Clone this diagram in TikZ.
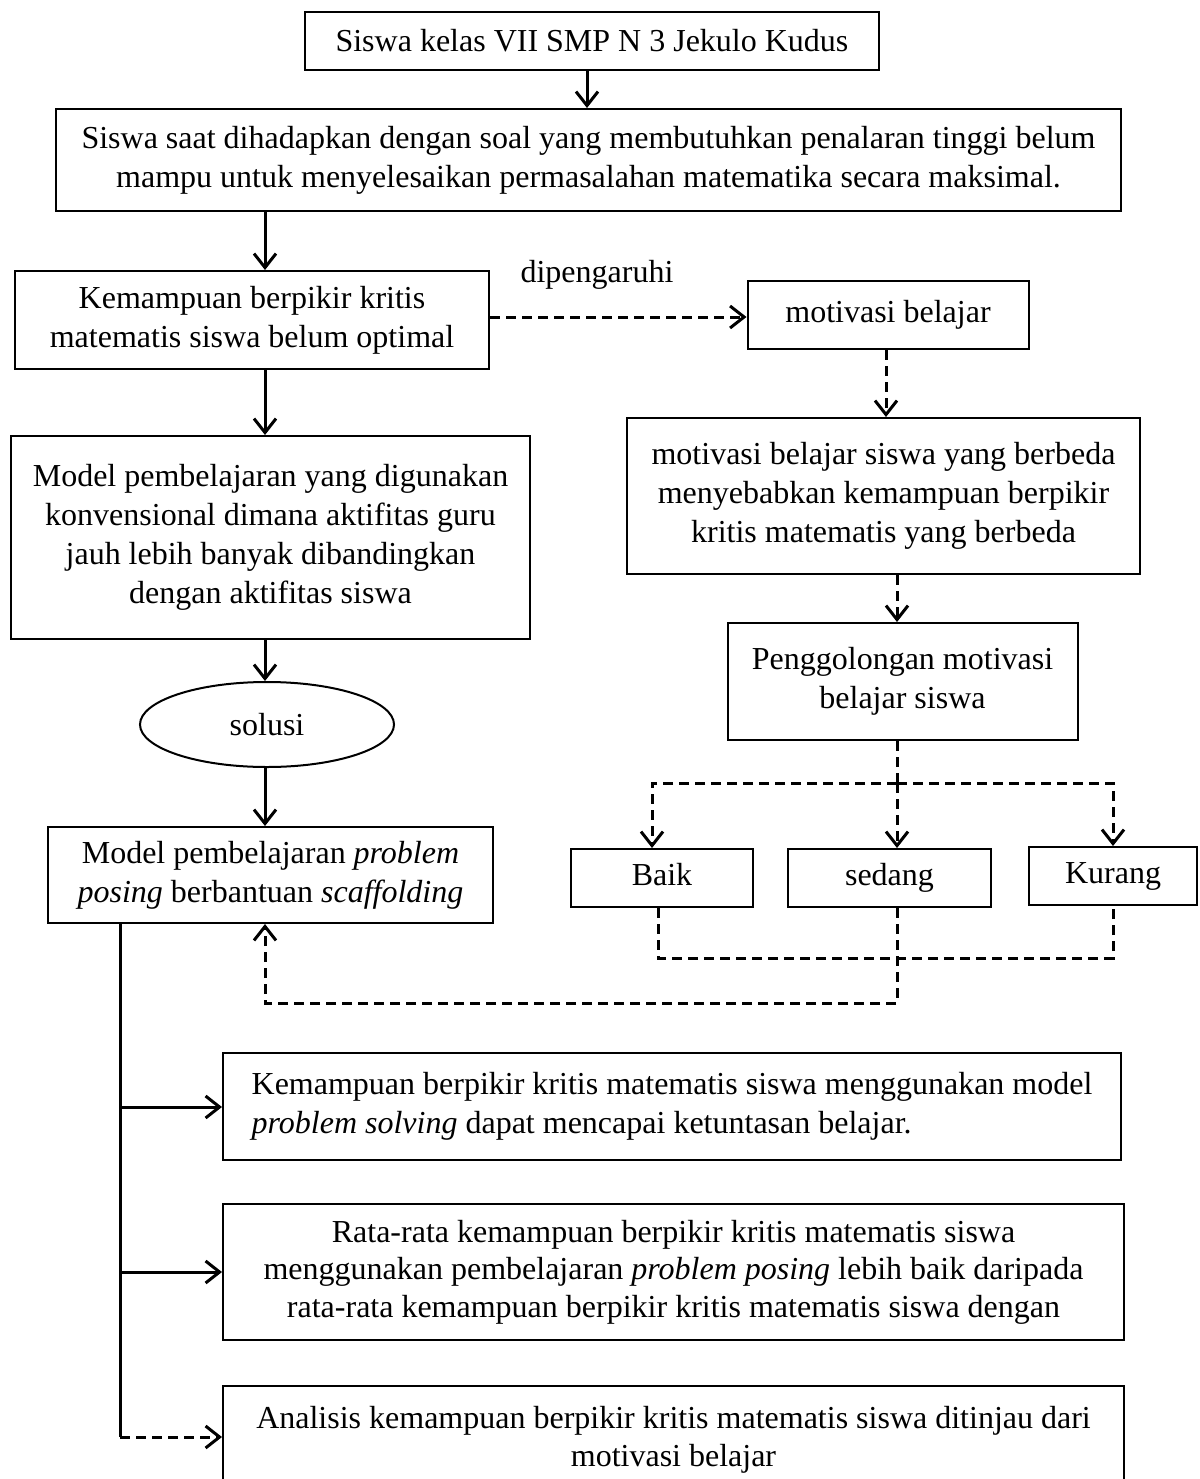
\documentclass[tikz,border=0pt]{standalone}
\usepackage{fontspec}
\setmainfont{Liberation Serif}
\usetikzlibrary{arrows.meta,positioning,shapes.geometric}

\begin{document}
\begin{tikzpicture}[
  x=1pt, y=-1pt,
  box/.style={rectangle, draw, line width=2pt, fill=white, align=center,
              inner sep=0pt, font=\fontsize{32}{39}\selectfont},
  grade/.style={box, minimum height=58pt, text height=22pt, text depth=7pt},
  oval/.style={ellipse, draw, line width=2pt, inner sep=0pt,
               font=\fontsize{32}{39}\selectfont},
  flow/.style={line width=3pt, -{Straight Barb[length=14pt,width=22pt]}},
  dflow/.style={flow, dash pattern=on 10pt off 6pt},
  dline/.style={line width=3pt, dash pattern=on 10pt off 6pt},
  trunkline/.style={line width=3pt}
]
  \useasboundingbox (0,0) rectangle (1199,1479);
  \clip (0,0) rectangle (1199,1479);

  %--- Top of the chart ---
  \node[box, minimum width=574pt, minimum height=58pt] (top) at (592,41)
    {Siswa kelas VII SMP N 3 Jekulo Kudus};
  \node[box, minimum width=1065pt, minimum height=102pt] (prob) at (588.5,160)
    {Siswa saat dihadapkan dengan soal yang membutuhkan penalaran tinggi belum\\
     mampu untuk menyelesaikan permasalahan matematika secara maksimal.};

  %--- Left column ---
  \node[box, minimum width=474pt, minimum height=98pt] (kbk) at (252,320)
    {Kemampuan berpikir kritis\\ matematis siswa belum optimal};
  \node[box, minimum width=519pt, minimum height=203pt] (konv) at (270.5,537.5)
    {Model pembelajaran yang digunakan\\ konvensional dimana aktifitas guru\\
     jauh lebih banyak dibandingkan\\ dengan aktifitas siswa};
  \node[oval, minimum width=254pt, minimum height=85pt] (solusi) at (267,724.5)
    {solusi};
  \node[box, minimum width=445pt, minimum height=96pt] (pp) at (270.5,875)
    {Model pembelajaran \textit{problem}\\ \textit{posing} berbantuan \textit{scaffolding}};

  %--- Right column ---
  \node[box, minimum width=281pt, minimum height=68pt] (motiv) at (888,315)
    {motivasi belajar};
  \node[box, minimum width=513pt, minimum height=156pt] (beda) at (883.5,496)
    {motivasi belajar siswa yang berbeda\\ menyebabkan kemampuan berpikir\\
     kritis matematis yang berbeda};
  \node[box, minimum width=350pt, minimum height=117pt] (golong) at (902.5,681.5)
    {Penggolongan motivasi\\ belajar siswa};
  \node[grade, minimum width=182pt] (baik) at (662,878) {Baik};
  \node[grade, minimum width=203pt] (sedang) at (889.5,878) {sedang};
  \node[grade, minimum width=168pt] (kurang) at (1113,876) {Kurang};
  \node[font=\fontsize{32}{39}\selectfont] (pengaruh) at (597,275) {dipengaruhi};

  %--- Results ---
  \node[box, minimum width=898pt, minimum height=107pt, align=left] (h1) at (672,1106.5)
    {Kemampuan berpikir kritis matematis siswa menggunakan model\\
     \textit{problem solving} dapat mencapai ketuntasan belajar.};
  \node[box, minimum width=901pt, minimum height=136pt, font=\fontsize{32}{37.5}\selectfont]
    (h2) at (673.5,1272)
    {Rata-rata kemampuan berpikir kritis matematis siswa\\
     menggunakan pembelajaran \textit{problem posing} lebih baik daripada\\
     rata-rata kemampuan berpikir kritis matematis siswa dengan};
  \node[box, minimum width=901pt, minimum height=107pt, font=\fontsize{32}{38}\selectfont]
    (h3) at (673.5,1439.5)
    {Analisis kemampuan berpikir kritis matematis siswa ditinjau dari\\
     motivasi belajar};

  % Helper points
  \coordinate (spine) at (265,0);
  \coordinate (fork) at (897,783);
  \coordinate (merge) at (897,958);
  \coordinate (ret) at (265,1003);
  \coordinate (trunk) at (120,0);
  \coordinate (k1) at (120,1107);
  \coordinate (k2) at (120,1272);
  \coordinate (k3) at (120,1437);

  % Main flow
  \draw[flow] (top.south -| 587,0) -- (prob.north -| 587,0);
  \draw[flow] (prob.south -| spine) -- (kbk.north -| spine);
  \draw[flow] (kbk.south -| spine) -- (konv.north -| spine);
  \draw[flow] (konv.south -| spine) -- (solusi.north -| spine);
  \draw[flow] (solusi.south -| spine) -- (pp.north -| spine);

  % Motivation branch
  \draw[dflow] (kbk.east |- 0,317) -- (motiv.west |- 0,317);
  \draw[dflow] (motiv.south -| 886,0) -- (beda.north -| 886,0);
  \draw[dflow] (beda.south -| fork) -- (golong.north -| fork);
  \draw[dline] (golong.south -| fork) -- (fork);
  \draw[dflow] (fork) -- (sedang.north -| fork);
  \draw[dflow] (fork) -| (baik.north -| 652,0);
  \draw[dflow] (fork) -| (kurang.north);

  % Back to the model
  \draw[dline] (baik.south -| 658,0) |- (merge) -| (kurang.south);
  \draw[dflow] (sedang.south -| merge) |- (ret) -- (ret |- pp.south);

  % Results
  \draw[trunkline] (pp.south -| trunk) -- (k3);
  \draw[flow] (k1) -- (k1 -| h1.west);
  \draw[flow] (k2) -- (k2 -| h2.west);
  \draw[dflow] (k3) -- (k3 -| h3.west);

\end{tikzpicture}
\end{document}
